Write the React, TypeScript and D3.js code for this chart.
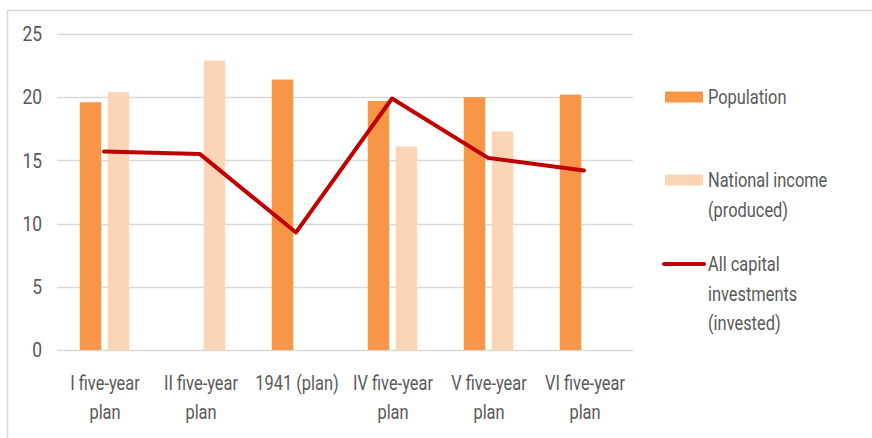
import React, { useEffect, useRef } from "react";
import * as d3 from "d3";

const categories = [
  ["I five-year", "plan"],
  ["II five-year", "plan"],
  ["1941 (plan)"],
  ["IV five-year", "plan"],
  ["V five-year", "plan"],
  ["VI five-year", "plan"],
];
const population: (number | null)[] = [19.6, null, 21.4, 19.7, 20.0, 20.2];
const nationalIncome: (number | null)[] = [20.4, 22.9, null, 16.1, 17.3, null];
const capitalInvestments: number[] = [15.7, 15.5, 9.3, 19.9, 15.2, 14.2];
const yTicks = [0, 5, 10, 15, 20, 25];

const legendItems = [
  { label: ["Population"], kind: "bar", color: "#F79646" },
  { label: ["National income", "(produced)"], kind: "bar", color: "#FBD5B5" },
  { label: ["All capital", "investments", "(invested)"], kind: "line", color: "#C00000" },
];

const FONT = "Roboto, 'Noto Sans', sans-serif";

export default function App() {
  const ref = useRef<SVGSVGElement>(null);
  useEffect(() => {
    const svg = d3.select(ref.current);
    svg.selectAll("*").remove();
    const W = 872, H = 438;
    const left = 57, right = 633, top = 34, bottom = 350;
    const x = d3.scaleBand().domain(categories.map((_, i) => String(i))).range([left, right]);
    const y = d3.scaleLinear().domain([0, 25]).range([bottom, top]);

    const txt = (g: any, tx: number, ty: number, t: string | number, anchor: string, sx: number) =>
      g.append("text").attr("transform", `translate(${tx},${ty}) scale(${sx},1)`)
        .attr("dy", "0.35em").attr("text-anchor", anchor)
        .attr("font-family", FONT).attr("font-size", 20.5).attr("fill", "#595959").text(t);

    svg.append("rect").attr("x", 7.5).attr("y", 10.5).attr("width", W + 20).attr("height", H + 20)
      .attr("fill", "#fff").attr("stroke", "#D9D9D9").attr("stroke-width", 1.5);

    // gridlines
    svg.append("g").selectAll("line").data(yTicks).join("line")
      .attr("x1", left).attr("x2", right)
      .attr("y1", (d) => Math.round(y(d)) + 0.5).attr("y2", (d) => Math.round(y(d)) + 0.5)
      .attr("stroke", "#D9D9D9").attr("stroke-width", 1.3);

    // y tick labels
    const yl = svg.append("g");
    yTicks.forEach((d) => txt(yl, 42, y(d), d, "end", 0.85));

    const bw = 21.5;
    const cx = (i: number) => (x(String(i)) as number) + x.bandwidth() / 2;
    const bars = (vals: (number | null)[], off: number, color: string) => {
      svg.append("g").selectAll("rect").data(vals.map((v, i) => ({ v, i })).filter((d) => d.v != null))
        .join("rect")
        .attr("x", (d) => cx(d.i) + off - bw / 2).attr("width", bw)
        .attr("y", (d) => y(d.v as number)).attr("height", (d) => bottom - y(d.v as number))
        .attr("fill", color);
    };
    bars(population, -14.5, legendItems[0].color);
    bars(nationalIncome, 13.5, legendItems[1].color);

    const line = d3.line<number>().x((_, i) => cx(i) - 1).y((d) => y(d));
    svg.append("path").attr("d", line(capitalInvestments)).attr("fill", "none")
      .attr("stroke", legendItems[2].color).attr("stroke-width", 4).attr("stroke-linejoin", "round")
      .attr("stroke-linecap", "round");

    // x labels
    const xl = svg.append("g");
    categories.forEach((lines, i) => {
      lines.forEach((t, j) => txt(xl, cx(i), 383 + j * 29, t, "middle", 0.8));
    });

    // legend
    const ly = [97, 180, 264];
    legendItems.forEach((it, k) => {
      const g = svg.append("g");
      if (it.kind === "bar") {
        g.append("rect").attr("x", 665).attr("y", ly[k] - 5.5).attr("width", 38).attr("height", 11).attr("fill", it.color);
      } else {
        g.append("line").attr("x1", 664).attr("x2", 704).attr("y1", ly[k]).attr("y2", ly[k])
          .attr("stroke", it.color).attr("stroke-width", 4).attr("stroke-linecap", "round");
      }
      it.label.forEach((t, j) => txt(g, 708, ly[k] + j * 29.5, t, "start", 0.8));
    });
  }, []);
  return (
    <svg ref={ref} width={872} height={438}
      style={{ position: "absolute", left: 0, top: 0, display: "block", background: "#fff" }} />
  );
}
